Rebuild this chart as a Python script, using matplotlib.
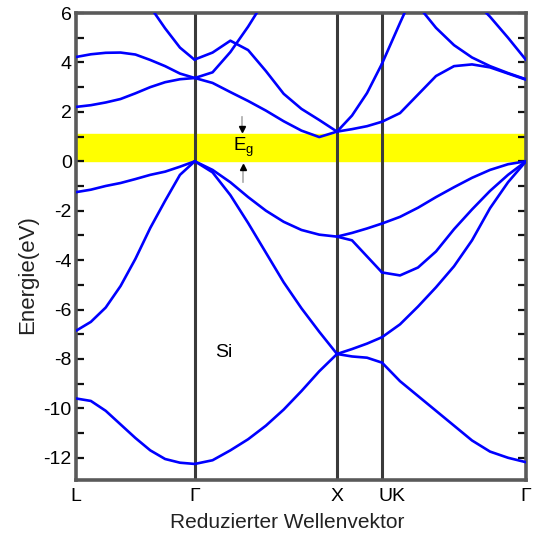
import numpy as np
import matplotlib
matplotlib.use('Agg')
import matplotlib.pyplot as plt
from matplotlib.ticker import MultipleLocator
from matplotlib.transforms import ScaledTranslation

plt.rcParams['font.family'] = ['Liberation Sans', 'DejaVu Sans']
plt.rcParams['mathtext.fontset'] = 'custom'
plt.rcParams['mathtext.rm'] = 'Liberation Sans'
plt.rcParams['axes.unicode_minus'] = False

# --- 1. Hochsymmetriepunkte ---
k_labels = ['L', 'Γ', 'X', 'UK', 'Γ']
k_ticks = [0.0, 0.264, 0.58, 0.68, 1.0]

# Bandlücke (eV)
gap_low, gap_high = 0.0, 1.1

nan = np.nan

# --- 2. Bänder je Abschnitt (eV), gleichmäßig abgetastet ---
# L -> Γ
bands_LG = [
    [-9.6, -9.7, -10.1, -10.65, -11.2, -11.7, -12.05, -12.2, -12.25],
    [-6.86, -6.5, -5.92, -5.05, -3.95, -2.7, -1.6, -0.55, 0.0],
    [-1.25, -1.15, -1.0, -0.88, -0.72, -0.55, -0.42, -0.22, 0.0],
    [2.2, 2.27, 2.38, 2.52, 2.75, 3.0, 3.2, 3.32, 3.37],
    [4.22, 4.33, 4.39, 4.4, 4.32, 4.1, 3.85, 3.55, 3.37],
    [nan, nan, nan, nan, 7.2, 6.25, 5.38, 4.6, 4.1],
]

# Γ -> X
bands_GX = [
    [-12.25, -12.1, -11.7, -11.25, -10.7, -10.05, -9.3, -8.5, -7.8],
    [0.0, -0.45, -1.37, -2.5, -3.7, -4.9, -5.95, -6.9, -7.8],
    [0.0, -0.35, -0.85, -1.45, -2.0, -2.45, -2.78, -2.97, -3.05],
    [3.37, 3.17, 2.8, 2.44, 2.05, 1.62, 1.24, 0.98, 1.2],
    [4.12, 4.4, 4.88, 4.5, 3.65, 2.73, 2.12, 1.67, 1.2],
    [3.37, 3.6, 4.42, 5.45, 6.6, nan, nan, nan, nan],
]

# X -> U
bands_XU = [
    [-7.8, -7.6, -7.38, -7.12],
    [-7.8, -7.9, -7.95, -8.15],
    [-3.05, -2.9, -2.72, -2.52],
    [-3.05, -3.2, -3.85, -4.5],
    [1.2, 1.3, 1.42, 1.6],
    [1.2, 1.85, 2.76, 3.95],
]

# K -> Γ
bands_KG = [
    [-8.15, -8.9, -9.5, -10.1, -10.7, -11.3, -11.75, -12.0, -12.18],
    [-7.12, -6.6, -5.88, -5.1, -4.25, -3.2, -1.9, -0.85, 0.0],
    [-4.5, -4.62, -4.3, -3.65, -2.75, -1.95, -1.2, -0.55, 0.0],
    [-2.52, -2.25, -1.88, -1.45, -1.05, -0.67, -0.35, -0.12, 0.0],
    [1.6, 1.95, 2.7, 3.45, 3.85, 3.92, 3.8, 3.55, 3.3],
    [3.95, 5.6, 7.2, nan, nan, nan, nan, nan, nan],
    [nan, nan, 6.3, 5.4, 4.7, 4.2, 3.85, 3.57, 3.32],
    [nan, nan, nan, nan, nan, 6.6, 5.85, 5.0, 4.1],
]

segments = [
    (k_ticks[0], k_ticks[1], bands_LG),
    (k_ticks[1], k_ticks[2], bands_GX),
    (k_ticks[2], k_ticks[3], bands_XU),
    (k_ticks[3], k_ticks[4], bands_KG),
]

# --- 3. Diagramm ---
fig = plt.figure(figsize=(5.33, 5.38), dpi=100)
ax = fig.add_axes([0.1426, 0.1078, 0.8443, 0.868])

ax.axhspan(gap_low, gap_high, color='#ffff00', zorder=1)
for k in k_ticks[1:4]:
    ax.axvline(k, color='#3a3a3a', lw=2.2, zorder=2)

for k0, k1, bands in segments:
    for e in bands:
        k = np.linspace(k0, k1, len(e))
        ax.plot(k, e, color='#0000ff', lw=1.9, zorder=3,
                solid_joinstyle='round', solid_capstyle='round')

# Eg mit Pfeilen
ax.text(0.372, 0.55, r'$\mathregular{E_g}$', fontsize=13.5, ha='center', va='center', zorder=4)
ax.plot([0.369, 0.369], [1.8, 1.35], color='#aaaaaa', lw=1.2, zorder=4)
ax.plot(0.369, 1.3, marker='v', color='black', ms=4, zorder=5)
ax.plot([0.372, 0.372], [-0.85, -0.3], color='#aaaaaa', lw=1.2, zorder=4)
ax.plot(0.372, -0.25, marker='^', color='black', ms=4, zorder=5)

ax.text(0.329, -7.75, 'Si', fontsize=14, ha='center', va='center')

# --- 4. Achsen ---
ax.set_xlim(0, 1)
ax.set_ylim(-12.9, 6)
ax.set_xticks(k_ticks)
ax.set_xticklabels(k_labels, fontsize=14)
ax.tick_params(axis='x', length=0, pad=6)
offsets = [0, 0, 0, 10, 0]
for lbl, dx in zip(ax.get_xticklabels(), offsets):
    lbl.set_transform(lbl.get_transform() + ScaledTranslation(dx / 100, 0, fig.dpi_scale_trans))

ax.yaxis.set_major_locator(MultipleLocator(2))
ax.yaxis.set_minor_locator(MultipleLocator(1))
ax.tick_params(axis='y', which='both', direction='in', length=6, width=1.6,
               right=True, labelsize=14, pad=3, color='#111111')

for sp in ax.spines.values():
    sp.set_color('#5a5a5a')
    sp.set_linewidth(2.6)

ax.set_xlabel('Reduzierter Wellenvektor', fontsize=15, color='#222222')
ax.xaxis.set_label_coords(0.47, -0.07)
ax.set_ylabel('Energie(eV)', fontsize=16, color='#222222')
ax.yaxis.set_label_coords(-0.085, 0.44)

fig.savefig('out.png', dpi=100)
